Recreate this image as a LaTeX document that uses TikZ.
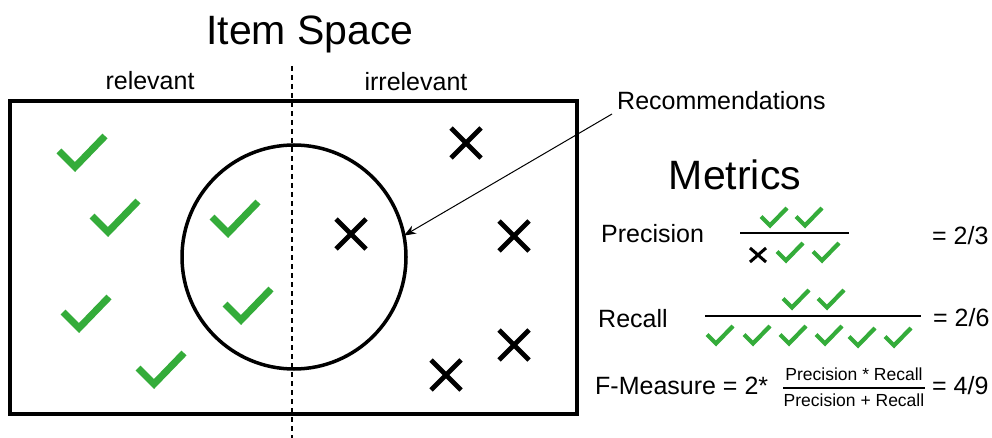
\documentclass[tikz,border=0pt]{standalone}
\usepackage{fontspec}
\setmainfont{Liberation Sans}
\usetikzlibrary{arrows.meta}
\definecolor{chkgreen}{RGB}{52,172,58}
\tikzset{
  bigchk/.pic={\draw[chkgreen,line width=7pt] (-23,-1) -- (-7,15) -- (23,-16);},
  smallchk/.pic={\draw[chkgreen,line width=4.2pt] (-13,-0.5) -- (-4,8.5) -- (13,-9);},
  bigx/.pic={\draw[line width=4.8pt] (-15,-15) -- (15,15) (-15,15) -- (15,-15);},
  smallx/.pic={\draw[line width=3pt] (-8,-7) -- (8,7) (-8,7) -- (8,-7);},
  txt/.style={inner sep=0pt, anchor=base, font=\fontsize{25}{28}\selectfont},
  txtw/.style={txt, anchor=base west},
  big/.style={inner sep=0pt, anchor=base, font=\fontsize{41}{46}\selectfont},
  small/.style={inner sep=0pt, anchor=base, font=\fontsize{17.5}{20}\selectfont},
  fbar/.style={line width=1.5pt},
}
\begin{document}
\begin{tikzpicture}[x=1pt,y=-1pt]
\useasboundingbox[fill=white] (0,0) rectangle (992,438);
% titles
\node[big] (title) at (310,45) {Item Space};
\node[txt] (rel) at (150,90) {relevant};
\node[txt] (irr) at (416,91) {irrelevant};
% box and divider
\draw[line width=4pt] (10,101) rectangle (577,414);
\draw[line width=2pt, dash pattern=on 5pt off 4pt] (292,66) -- (292,438);
% recommendations circle
\node[circle, draw, line width=3.5pt, minimum size=224pt, inner sep=0pt, outer sep=0pt] (rec) at (294,257) {};
\node[txtw] (reclabel) at (617,110) {Recommendations};
\coordinate (arrstart) at (612,114);
\draw[line width=1pt, -{Stealth[length=12pt,width=9pt]}] (arrstart) -- (rec.11);
% item checks
\pic at (82,152) {bigchk};
\pic at (115,217) {bigchk};
\pic at (86,313) {bigchk};
\pic at (161,369) {bigchk};
\pic at (235,218) {bigchk};
\pic at (248,305) {bigchk};
% item crosses
\pic at (466,143) {bigx};
\pic at (351,234) {bigx};
\pic at (514,236) {bigx};
\pic at (514,345) {bigx};
\pic at (446,375) {bigx};
% metrics
\node[big] (metrics) at (735,190) {Metrics};
% precision
\node[txtw] (prec) at (601,243) {Precision};
\draw[fbar] (740,233) -- (849,233);
\pic at (774,217) {smallchk};
\pic at (809,217) {smallchk};
\pic at (758,255) {smallx};
\pic at (790,252) {smallchk};
\pic at (826,252) {smallchk};
\node[txtw] (precval) at (932,244) {= 2/3};
% recall
\node[txtw] (rec2) at (598,327) {Recall};
\draw[fbar] (705,316) -- (921,316);
\pic at (796,299) {smallchk};
\pic at (831,299) {smallchk};
\pic at (720,335) {smallchk};
\pic at (757,335) {smallchk};
\pic at (793,335) {smallchk};
\pic at (829,335) {smallchk};
\pic at (862,337) {smallchk};
\pic at (898,337) {smallchk};
\node[txtw] (recval) at (933,326) {= 2/6};
% F-measure
\node[txtw] (fm) at (595,394) {F-Measure = 2*};
\node[small] (fnum) at (854,380) {Precision * Recall};
\node[small] (fden) at (854,406) {Precision + Recall};
\draw[fbar] (783,388) -- (925,388);
\node[txtw] (fval) at (932,394) {= 4/9};
\end{tikzpicture}
\end{document}
